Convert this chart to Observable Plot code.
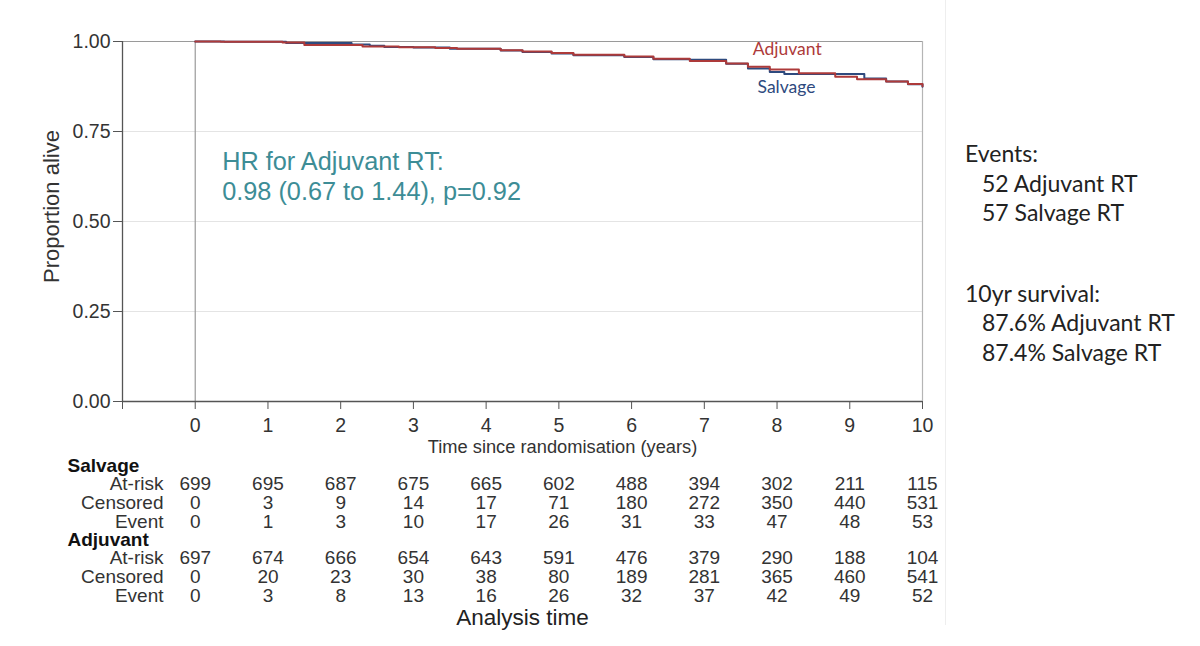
<!DOCTYPE html>
<html>
<head>
<meta charset="utf-8">
<script src="https://cdn.jsdelivr.net/npm/d3@7"></script>
<script src="https://cdn.jsdelivr.net/npm/@observablehq/plot@0.6"></script>
<style>
  html, body { margin: 0; padding: 0; background: #fff; }
  body { width: 1200px; height: 646px; position: relative; overflow: hidden; font-family: "Liberation Sans", Arial, sans-serif; }
  #chart { position: absolute; left: 0; top: 0; }
  #side { position: absolute; left: 965px; top: 139px; font-family: Lato, "Open Sans", sans-serif; font-size: 23px; color: #222; line-height: 29.5px; }
  #side .ind { padding-left: 17px; }
  #edge { position: absolute; left: 945px; top: 0; width: 1px; height: 625px; background: #eeeeee; }
</style>
</head>
<body>
<div id="edge"></div>
<div id="chart"></div>
<div id="side">
  <div>Events:</div>
  <div class="ind">52 Adjuvant RT</div>
  <div class="ind">57 Salvage RT</div>
  <div style="height:51px"></div>
  <div>10yr survival:</div>
  <div class="ind">87.6% Adjuvant RT</div>
  <div class="ind">87.4% Salvage RT</div>
</div>
<script>
// Kaplan–Meier step points
const adjTime = [0, 0.35, 1.2, 1.5, 2.3, 2.8, 3.3, 3.6, 4.2, 4.5, 4.9, 5.2, 5.9, 6.3, 6.8, 7.3, 7.6, 7.9, 8.3, 8.8, 9.1, 9.5, 9.8, 10];
const adjSurv = [1.000, 0.999, 0.997, 0.990, 0.986, 0.984, 0.982, 0.980, 0.976, 0.972, 0.968, 0.963, 0.958, 0.952, 0.946, 0.939, 0.930, 0.922, 0.912, 0.902, 0.895, 0.889, 0.882, 0.876];
const salTime = [0, 0.4, 1.25, 2.15, 2.4, 2.6, 3.0, 3.5, 4.2, 4.5, 4.9, 5.2, 5.9, 6.3, 6.8, 7.3, 7.6, 7.9, 8.1, 9.2, 9.5, 9.8, 10];
const salSurv = [1.000, 0.999, 0.996, 0.992, 0.988, 0.985, 0.983, 0.980, 0.975, 0.971, 0.967, 0.962, 0.957, 0.951, 0.949, 0.938, 0.925, 0.915, 0.910, 0.897, 0.889, 0.881, 0.874];

// Risk table
const years = [0, 1, 2, 3, 4, 5, 6, 7, 8, 9, 10];
const salAtRisk = [699, 695, 687, 675, 665, 602, 488, 394, 302, 211, 115];
const salCens   = [0, 3, 9, 14, 17, 71, 180, 272, 350, 440, 531];
const salEvent  = [0, 1, 3, 10, 17, 26, 31, 33, 47, 48, 53];
const adjAtRisk = [697, 674, 666, 654, 643, 591, 476, 379, 290, 188, 104];
const adjCens   = [0, 20, 23, 30, 38, 80, 189, 281, 365, 460, 541];
const adjEvent  = [0, 3, 8, 13, 16, 26, 32, 37, 42, 49, 52];

const xTicks = [-1, 0, 1, 2, 3, 4, 5, 6, 7, 8, 9, 10];
const yTicks = [0, 0.25, 0.5, 0.75, 1];

const RED = "#ad3a3a";
const BLUE = "#2e4a7e";
const TEAL = "#3d8d96";
const FS = 19.5;   // tick labels
const TS = 19;     // risk table

const adjData = adjTime.map((t, i) => ({t, s: adjSurv[i]}));
const salData = salTime.map((t, i) => ({t, s: salSurv[i]}));

const groups = [
  {name: "Salvage", dy: 64, rows: [["At-risk", salAtRisk], ["Censored", salCens], ["Event", salEvent]]},
  {name: "Adjuvant", dy: 138, rows: [["At-risk", adjAtRisk], ["Censored", adjCens], ["Event", adjEvent]]}
];

const marks = [
  Plot.gridY([0.25, 0.5, 0.75], {stroke: "#e4e4e4", strokeOpacity: 1, strokeWidth: 1}),
  Plot.ruleY([1], {stroke: "#9a9a9a", strokeWidth: 1.2}),
  Plot.ruleX([10], {y1: 0, y2: 1, stroke: "#b5b5b5", strokeWidth: 1.2}),
  Plot.ruleX([0], {y1: 0, y2: 1, stroke: "#9a9a9a", strokeWidth: 1.2}),
  Plot.ruleX([-1], {y1: 0, y2: 1, stroke: "#555", strokeWidth: 1.3}),
  Plot.ruleY([0], {stroke: "#555", strokeWidth: 1.3}),
  Plot.axisY(yTicks, {tickFormat: d3.format(".2f"), tickSize: 9, tickPadding: 3, fontSize: FS, fill: "#333", stroke: "#555", label: null}),
  Plot.axisX(xTicks, {tickFormat: d => d < 0 ? "" : d, tickSize: 8, tickPadding: 9, fontSize: FS, fill: "#333", stroke: "#555", label: null}),
  Plot.text(["Time since randomisation (years)"], {x: 5.05, y: 0, dy: 46, lineAnchor: "middle", text: d => d, fontSize: 18.3, fill: "#333"}),
  Plot.text(["Proportion alive"], {frameAnchor: "left", dx: -71, dy: -15, lineAnchor: "middle", textAnchor: "middle", text: d => d, rotate: -90, fontSize: 22, fill: "#333"}),
  Plot.line(salData, {x: "t", y: "s", curve: "step-after", stroke: BLUE, strokeWidth: 2}),
  Plot.line(adjData, {x: "t", y: "s", curve: "step-after", stroke: RED, strokeWidth: 2}),
  Plot.text([{g: "Adjuvant", t: 8.14, s: 0.978}], {x: "t", y: "s", text: "g", fill: RED, fontSize: 17.5, fontFamily: "Lato, 'Open Sans', sans-serif"}),
  Plot.text([{g: "Salvage", t: 8.13, s: 0.872}], {x: "t", y: "s", text: "g", fill: BLUE, fontSize: 17.5, fontFamily: "Lato, 'Open Sans', sans-serif"}),
  Plot.text(["HR for Adjuvant RT:\n0.98 (0.67 to 1.44), p=0.92"], {x: 0.37, y: 0.627, text: d => d, textAnchor: "start", fill: TEAL, fontSize: 25.3, lineHeight: 1.19})
];

for (const g of groups) {
  marks.push(Plot.text([g.name], {frameAnchor: "bottom-left", dx: -55, dy: g.dy, lineAnchor: "middle", text: d => d, textAnchor: "start", fontWeight: "bold", fontSize: TS, fill: "#111"}));
  g.rows.forEach(([label, values], k) => {
    const dy = g.dy + 18.7 * (k + 1);
    marks.push(Plot.text([label], {frameAnchor: "bottom-left", dx: 41, dy, lineAnchor: "middle", text: d => d, textAnchor: "end", fontSize: TS, fill: "#333"}));
    marks.push(Plot.text(values.map((v, i) => ({x: years[i], v})), {x: "x", y: () => 0, dy, lineAnchor: "middle", text: d => String(d.v), fontSize: TS, fill: "#333"}));
  });
}
marks.push(Plot.text(["Analysis time"], {frameAnchor: "bottom", dy: 216, lineAnchor: "middle", text: d => d, fontSize: 22.5, fill: "#222"}));

const chart = Plot.plot({
  width: 1200,
  height: 646,
  marginLeft: 122,
  marginRight: 278,
  marginTop: 41,
  marginBottom: 245,
  style: {fontFamily: "'Liberation Sans', Arial, sans-serif", fontSize: FS + "px", background: "transparent", overflow: "visible"},
  x: {domain: [-1, 10]},
  y: {domain: [0, 1]},
  marks
});
document.getElementById("chart").appendChild(chart);
</script>
</body>
</html>
